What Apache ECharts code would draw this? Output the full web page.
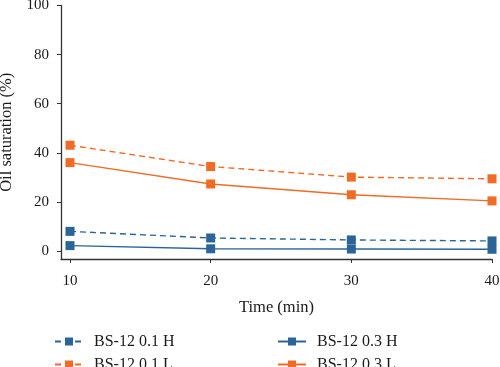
<!DOCTYPE html>
<html>
<head>
<meta charset="utf-8">
<script src="https://cdn.jsdelivr.net/npm/echarts@6/dist/echarts.min.js"></script>
<style>html,body{margin:0;padding:0;background:#fff}#c{width:500px;height:367px}</style>
</head>
<body>
<div id="c"></div>
<script>
const times = [10, 20, 30, 40];
const xTicks = [10, 20, 30, 40];
const yTicks = [0, 20, 40, 60, 80, 100];
const s01H = [8.0, 5.3, 4.5, 4.1];
const s03H = [2.2, 0.9, 0.8, 0.7];
const s01L = [43.1, 34.4, 30.1, 29.4];
const s03L = [36.0, 27.3, 22.9, 20.4];
const names = ['BS-12 0.1 H', 'BS-12 0.3 H', 'BS-12 0.1 L', 'BS-12 0.3 L'];

const BLUE = '#2b6598';
const ORANGE = '#f06b26';
const FONT = 'Liberation Serif';

function pairs(arr) { return times.map((t, i) => [t, arr[i]]); }
function mk(name, data, color, dashed) {
  return {
    name: name, type: 'line', data: pairs(data),
    symbol: 'rect', symbolSize: 9,
    itemStyle: { color: color },
    lineStyle: { color: color, width: 1.4, type: dashed ? [6, 4] : 'solid' },
    emphasis: { disabled: true }, animation: false
  };
}
function leg(name, left, top) {
  return {
    data: [name], orient: 'horizontal', left: left, top: top,
    itemWidth: 28, itemHeight: 10, padding: 0,
    textStyle: { fontFamily: FONT, fontSize: 16, color: '#1a1a1a', padding: [0, 0, 0, 6] }
  };
}

const chart = echarts.init(document.getElementById('c'));
chart.setOption({
  animation: false,
  grid: { left: 61, right: 8, top: 5.5, bottom: 108, containLabel: false, outerBoundsMode: 'none' },
  xAxis: {
    type: 'value', min: 9.36, max: 40,
    name: 'Time (min)', nameLocation: 'middle', nameGap: 40,
    nameTextStyle: { fontFamily: FONT, fontSize: 16.5, color: '#1a1a1a' },
    axisLine: { onZero: false, lineStyle: { color: '#333', width: 1.3 } },
    axisTick: { show: true, length: 4, customValues: xTicks, lineStyle: { color: '#333' } },
    axisLabel: { customValues: xTicks, fontFamily: FONT, fontSize: 15, color: '#1a1a1a', margin: 15 },
    splitLine: { show: false }
  },
  yAxis: {
    type: 'value', min: -3.26, max: 100,
    name: 'Oil saturation (%)', nameLocation: 'middle', nameGap: 44,
    nameTextStyle: { fontFamily: FONT, fontSize: 16.5, color: '#1a1a1a' },
    axisLine: { show: true, onZero: false, lineStyle: { color: '#333', width: 1.3 } },
    axisTick: { show: true, length: 4, customValues: yTicks, lineStyle: { color: '#333' } },
    axisLabel: { customValues: yTicks, fontFamily: FONT, fontSize: 15, color: '#1a1a1a', margin: 12 },
    splitLine: { show: false }
  },
  legend: [
    leg(names[0], 54, 333.5),
    leg(names[2], 54, 356.5),
    leg(names[1], 277, 333.5),
    leg(names[3], 277, 356.5)
  ],
  series: [
    mk(names[0], s01H, BLUE, true),
    mk(names[1], s03H, BLUE, false),
    mk(names[2], s01L, ORANGE, true),
    mk(names[3], s03L, ORANGE, false)
  ]
});
</script>
</body>
</html>
